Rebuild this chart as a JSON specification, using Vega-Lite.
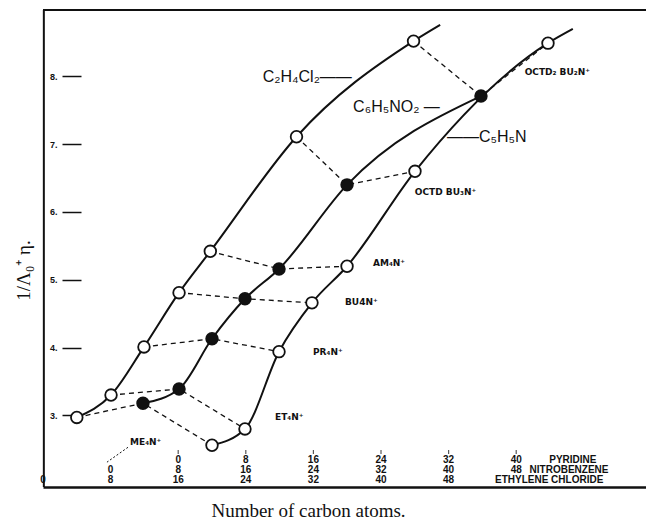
{
  "$schema": "https://vega.github.io/schema/vega-lite/v6.json",
  "width": 603,
  "height": 477,
  "autosize": "none",
  "padding": {"left": 43, "top": 10, "right": 0, "bottom": 33},
  "background": "white",
  "config": {"view": {"stroke": null}},
  "datasets": {
    "frame": [{"edge": "frame"}],
    "pts": [
      {"s": "eth", "cat": "Me", "c": 4.0, "y": 2.97, "pt": 1},
      {"s": "eth", "cat": "Et", "c": 8.05, "y": 3.30, "pt": 1},
      {"s": "eth", "cat": "Pr", "c": 11.95, "y": 4.01, "pt": 1},
      {"s": "eth", "cat": "Bu", "c": 16.1, "y": 4.81, "pt": 1},
      {"s": "eth", "cat": "Am", "c": 19.8, "y": 5.42, "pt": 1},
      {"s": "eth", "cat": "OctdBu3", "c": 30.0, "y": 7.11, "pt": 1},
      {"s": "eth", "cat": "Octd2Bu2", "c": 43.85, "y": 8.52, "pt": 1},
      {"s": "eth", "cat": "end", "c": 47.0, "y": 8.76, "pt": 0},
      {"s": "nitro", "cat": "Me", "c": 11.83, "y": 3.18, "pt": 1},
      {"s": "nitro", "cat": "Et", "c": 16.1, "y": 3.39, "pt": 1},
      {"s": "nitro", "cat": "Pr", "c": 20.0, "y": 4.13, "pt": 1},
      {"s": "nitro", "cat": "Bu", "c": 23.9, "y": 4.72, "pt": 1},
      {"s": "nitro", "cat": "Am", "c": 27.93, "y": 5.16, "pt": 1},
      {"s": "nitro", "cat": "OctdBu3", "c": 35.98, "y": 6.40, "pt": 1},
      {"s": "nitro", "cat": "Octd2Bu2", "c": 51.83, "y": 7.71, "pt": 1},
      {"s": "pyr", "cat": "Me", "c": 20.0, "y": 2.56, "pt": 1},
      {"s": "pyr", "cat": "Et", "c": 23.9, "y": 2.80, "pt": 1},
      {"s": "pyr", "cat": "Pr", "c": 27.93, "y": 3.94, "pt": 1},
      {"s": "pyr", "cat": "Bu", "c": 31.83, "y": 4.66, "pt": 1},
      {"s": "pyr", "cat": "Am", "c": 35.98, "y": 5.20, "pt": 1},
      {"s": "pyr", "cat": "OctdBu3", "c": 44.02, "y": 6.60, "pt": 1},
      {"s": "pyr", "cat": "Octd2Bu2", "c": 59.76, "y": 8.49, "pt": 1},
      {"s": "pyr", "cat": "end", "c": 62.7, "y": 8.70, "pt": 0}
    ],
    "ticks": [
      {"row": "pyr", "c": 16, "label": "0"},
      {"row": "pyr", "c": 24, "label": "8"},
      {"row": "pyr", "c": 32, "label": "16"},
      {"row": "pyr", "c": 40, "label": "24"},
      {"row": "pyr", "c": 48, "label": "32"},
      {"row": "pyr", "c": 56, "label": "40"},
      {"row": "pyr", "c": 62.7, "label": "PYRIDINE"},
      {"row": "nitro", "c": 8, "label": "0"},
      {"row": "nitro", "c": 16, "label": "8"},
      {"row": "nitro", "c": 24, "label": "16"},
      {"row": "nitro", "c": 32, "label": "24"},
      {"row": "nitro", "c": 40, "label": "32"},
      {"row": "nitro", "c": 48, "label": "40"},
      {"row": "nitro", "c": 56, "label": "48"},
      {"row": "nitro", "c": 62.25, "label": "NITROBENZENE"},
      {"row": "eth", "c": 0, "label": "0"},
      {"row": "eth", "c": 8, "label": "8"},
      {"row": "eth", "c": 16, "label": "16"},
      {"row": "eth", "c": 24, "label": "24"},
      {"row": "eth", "c": 32, "label": "32"},
      {"row": "eth", "c": 40, "label": "40"},
      {"row": "eth", "c": 48, "label": "48"},
      {"row": "eth", "c": 59.9, "label": "ETHYLENE CHLORIDE"}
    ],
    "dots": [
      {"c": 16}, {"c": 24}, {"c": 32}, {"c": 40}, {"c": 48}, {"c": 56}
    ],
    "ann": [
      {"label": "ME₄N⁺", "c": 10.3, "y": 2.61},
      {"label": "ET₄N⁺", "c": 27.46, "y": 2.98},
      {"label": "PR₄N⁺", "c": 31.95, "y": 3.94},
      {"label": "BU4N⁺", "c": 35.74, "y": 4.67},
      {"label": "AM₄N⁺", "c": 39.05, "y": 5.25},
      {"label": "OCTD  BU₃N⁺", "c": 44.0, "y": 6.29},
      {"label": "OCTD₂ BU₂N⁺", "c": 57.0, "y": 8.06}
    ],
    "solv": [
      {"label": "C₂H₄Cl₂——", "c": 26.0, "y": 7.99},
      {"label": "C₆H₅NO₂ —", "c": 36.7, "y": 7.55},
      {"label": "——C₅H₅N", "c": 47.8, "y": 7.11}
    ],
    "leader": [
      {"c": 10.06, "y": 2.53, "c2": 7.57, "y2": 2.31}
    ]
  },
  "layer": [
    {
      "data": {"name": "pts"},
      "transform": [{"filter": "datum.pt == 1"}],
      "mark": {"type": "line", "strokeWidth": 1.3, "strokeDash": [5, 4], "color": "#111"},
      "encoding": {
        "x": {
          "field": "c", "type": "quantitative",
          "scale": {"domain": [0, 71.36], "nice": false, "zero": false},
          "axis": {
            "orient": "bottom", "domain": true, "domainWidth": 2.5, "domainColor": "#111",
            "ticks": false, "labels": false, "grid": false,
            "title": "Number of carbon atoms.", "titleFont": "Liberation Serif",
            "titleFontSize": 19, "titleFontWeight": "normal", "titleColor": "#111",
            "titleX": 265, "titleY": 23, "titleBaseline": "middle", "titleAlign": "center"
          }
        },
        "y": {
          "field": "y", "type": "quantitative",
          "scale": {"domain": [1.944, 8.979], "nice": false, "zero": false},
          "axis": {
            "orient": "left", "offset": -38, "domain": false, "grid": false,
            "values": [3, 4, 5, 6, 7, 8], "tickSize": 19, "tickWidth": 1.5, "tickColor": "#111",
            "labelPadding": 5, "labelFont": "Liberation Sans", "labelFontWeight": "bold",
            "labelFontSize": 9, "labelColor": "#111", "labelExpr": "datum.value + '.'",
            "title": "1/Λ₀⁺ η.", "titleFont": "Liberation Serif", "titleFontSize": 19,
            "titleFontWeight": "normal", "titleColor": "#111",
            "titleX": -58, "titleY": 260, "titleBaseline": "middle", "titleAlign": "center"
          }
        },
        "detail": {"field": "cat"},
        "order": {"field": "c", "type": "quantitative"}
      }
    },
    {
      "data": {"name": "frame"},
      "mark": {"type": "rule", "strokeWidth": 2, "color": "#111"},
      "encoding": {"y": {"datum": 8.979, "type": "quantitative"}}
    },
    {
      "data": {"name": "frame"},
      "mark": {"type": "rule", "strokeWidth": 2, "color": "#111"},
      "encoding": {"x": {"datum": 0.1, "type": "quantitative"}}
    },
    {
      "data": {"name": "pts"},
      "mark": {"type": "line", "interpolate": "monotone", "strokeWidth": 2, "color": "#111"},
      "encoding": {
        "x": {"field": "c", "type": "quantitative"},
        "y": {"field": "y", "type": "quantitative"},
        "detail": {"field": "s"},
        "order": {"field": "c", "type": "quantitative"}
      }
    },
    {
      "data": {"name": "pts"},
      "transform": [{"filter": "datum.pt == 1"}],
      "mark": {"type": "point", "filled": true, "size": 135, "stroke": "#111", "strokeWidth": 1.8, "opacity": 1},
      "encoding": {
        "x": {"field": "c", "type": "quantitative"},
        "y": {"field": "y", "type": "quantitative"},
        "fill": {"condition": {"test": "datum.s == 'nitro'", "value": "#111"}, "value": "white"}
      }
    },
    {
      "data": {"name": "leader"},
      "mark": {"type": "rule", "strokeWidth": 1, "strokeDash": [2, 2], "color": "#111"},
      "encoding": {
        "x": {"field": "c", "type": "quantitative"},
        "y": {"field": "y", "type": "quantitative"},
        "x2": {"field": "c2"},
        "y2": {"field": "y2"}
      }
    },
    {
      "data": {"name": "dots"},
      "mark": {"type": "tick", "orient": "vertical", "size": 4, "thickness": 1.2, "color": "#111"},
      "encoding": {
        "x": {"field": "c", "type": "quantitative"},
        "y": {"datum": 2.46, "type": "quantitative"}
      }
    },
    {
      "data": {"name": "ticks"},
      "transform": [{"filter": "datum.row == 'pyr'"}],
      "mark": {"type": "text", "font": "Liberation Sans", "fontWeight": "bold", "fontSize": 10, "color": "#111", "align": "center", "baseline": "middle"},
      "encoding": {
        "x": {"field": "c", "type": "quantitative"},
        "y": {"datum": 2.342, "type": "quantitative"},
        "text": {"field": "label"}
      }
    },
    {
      "data": {"name": "ticks"},
      "transform": [{"filter": "datum.row == 'nitro'"}],
      "mark": {"type": "text", "font": "Liberation Sans", "fontWeight": "bold", "fontSize": 10, "color": "#111", "align": "center", "baseline": "middle"},
      "encoding": {
        "x": {"field": "c", "type": "quantitative"},
        "y": {"datum": 2.195, "type": "quantitative"},
        "text": {"field": "label"}
      }
    },
    {
      "data": {"name": "ticks"},
      "transform": [{"filter": "datum.row == 'eth'"}],
      "mark": {"type": "text", "font": "Liberation Sans", "fontWeight": "bold", "fontSize": 10, "color": "#111", "align": "center", "baseline": "middle"},
      "encoding": {
        "x": {"field": "c", "type": "quantitative"},
        "y": {"datum": 2.047, "type": "quantitative"},
        "text": {"field": "label"}
      }
    },
    {
      "data": {"name": "ann"},
      "mark": {"type": "text", "font": "DejaVu Sans", "fontWeight": "bold", "fontSize": 9, "color": "#111", "align": "left", "baseline": "middle"},
      "encoding": {
        "x": {"field": "c", "type": "quantitative"},
        "y": {"field": "y", "type": "quantitative"},
        "text": {"field": "label"}
      }
    },
    {
      "data": {"name": "solv"},
      "mark": {"type": "text", "font": "Liberation Sans", "fontWeight": "normal", "fontSize": 16, "color": "#111", "align": "left", "baseline": "middle"},
      "encoding": {
        "x": {"field": "c", "type": "quantitative"},
        "y": {"field": "y", "type": "quantitative"},
        "text": {"field": "label"}
      }
    }
  ]
}
